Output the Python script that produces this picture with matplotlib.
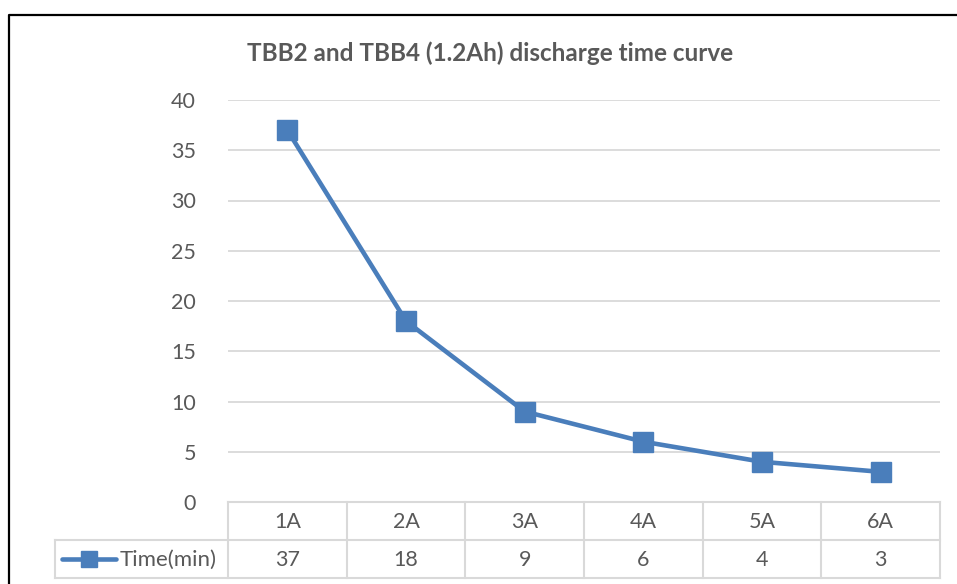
import matplotlib
matplotlib.use("Agg")
import matplotlib.pyplot as plt
import matplotlib.lines as mlines

# data
categories = ["1A", "2A", "3A", "4A", "5A", "6A"]
time_min = [37, 18, 9, 6, 4, 3]
series_name = "Time(min)"
title = "TBB2 and TBB4 (1.2Ah) discharge time curve"

W, H = 957, 584
BLUE = "#4A7EBB"
GRID = "#D9D9D9"
TXT = "#595959"
FS = 15.5

plt.rcParams['font.family'] = ['Lato', 'DejaVu Sans']

fig = plt.figure(figsize=(W / 100, H / 100), dpi=100)

# plot area in pixels
px_l, px_r, px_t, px_b = 228, 940, 100, 502
ax = fig.add_axes([px_l / W, 1 - px_b / H, (px_r - px_l) / W, (px_b - px_t) / H])

x = list(range(len(categories)))
ax.plot(x, time_min, color=BLUE, lw=3.3, marker='s', markersize=14.5,
        markerfacecolor=BLUE, markeredgecolor=BLUE, zorder=3)
ax.set_xlim(-0.5, len(categories) - 0.5)
ax.set_ylim(0, 40)
ax.set_yticks(range(0, 41, 5))
ax.set_xticks([])
ax.grid(axis='y', color=GRID, lw=1.3)
ax.set_axisbelow(True)
for s in ax.spines.values():
    s.set_visible(False)
ax.tick_params(axis='y', length=0, pad=23, labelsize=FS, labelcolor=TXT)

fig.text(490 / W, 1 - 53 / H, title, ha='center', va='center',
         fontsize=17.5, fontweight='bold', color=TXT)


# data table under the plot area
def fx(px):
    return px / W


def fy(py):
    return 1 - py / H


col_w = (px_r - px_l) / len(categories)
row1_t, row1_b, row2_b = 502, 540, 578
tbl_left = 55

def hline(x0, x1, y):
    fig.add_artist(mlines.Line2D([fx(x0), fx(x1)], [fy(y), fy(y)], color=GRID, lw=1.5))


def vline(x, y0, y1):
    fig.add_artist(mlines.Line2D([fx(x), fx(x)], [fy(y0), fy(y1)], color=GRID, lw=1.5))


hline(px_l, px_r, row1_t)
hline(tbl_left, px_r, row1_b)
hline(tbl_left, px_r, row2_b)
vline(tbl_left, row1_b, row2_b)
for i in range(len(categories) + 1):
    vline(px_l + i * col_w, row1_t, row2_b)

for i, (c, v) in enumerate(zip(categories, time_min)):
    cx = px_l + (i + 0.5) * col_w
    fig.text(fx(cx), fy((row1_t + row1_b) / 2 + 1), c, ha='center', va='center',
             fontsize=FS, color=TXT)
    fig.text(fx(cx), fy((row1_b + row2_b) / 2 + 1), str(v), ha='center', va='center',
             fontsize=FS, color=TXT)

# legend key inside the table
ky = (row1_b + row2_b) / 2
fig.add_artist(mlines.Line2D([fx(62), fx(116)], [fy(ky), fy(ky)], color=BLUE, lw=3.3,
                             solid_capstyle='round'))
fig.add_artist(mlines.Line2D([fx(89)], [fy(ky)], marker='s', markersize=11.5,
                             color=BLUE, lw=0))
fig.text(fx(120), fy(ky + 1), series_name, ha='left', va='center',
         fontsize=16, color=TXT)

# outer chart border (cut off at right and bottom)
fig.add_artist(mlines.Line2D([fx(9), fx(9), fx(W + 5)], [fy(H + 5), fy(15), fy(15)],
                             color='black', lw=1.6))

fig.savefig("out.png", dpi=100)
